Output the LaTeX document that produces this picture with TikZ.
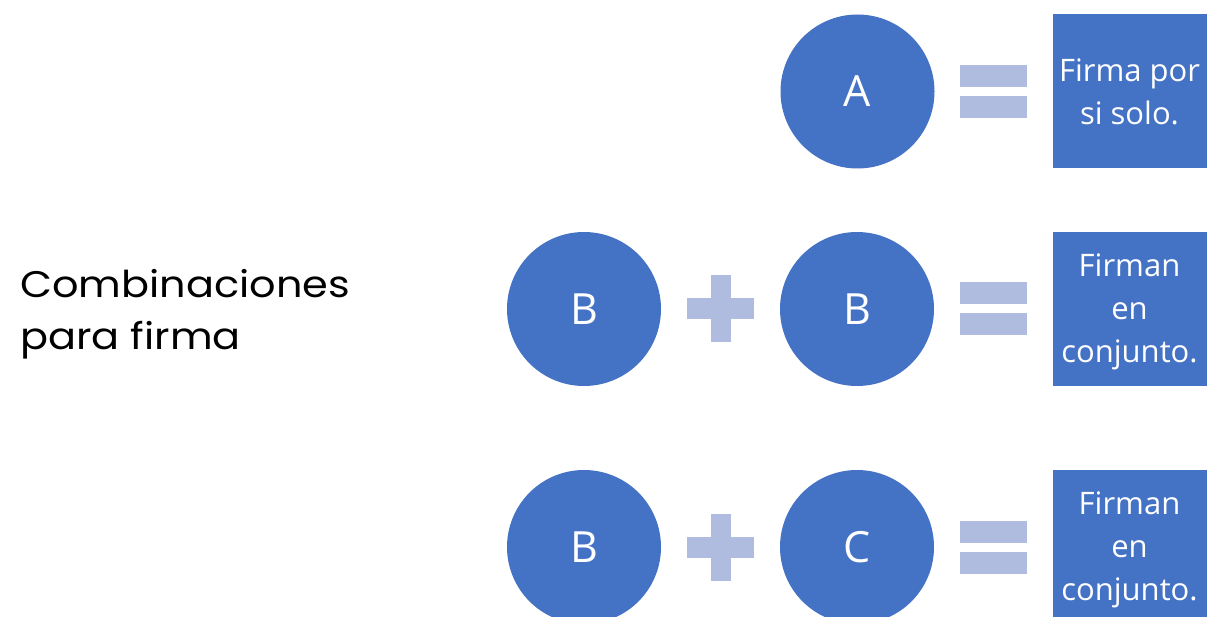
\documentclass[tikz,border=0pt]{standalone}
\usepackage{fontspec}
\setmainfont{Open Sans}
\newfontfamily\titlefont[FakeStretch=1.12]{Poppins}
\definecolor{disc}{HTML}{4472C4}
\definecolor{sign}{HTML}{B0BCDF}
\begin{document}
\begin{tikzpicture}[x=1pt,y=-1pt,
  disk/.style={circle,fill=disc,minimum size=154pt,inner sep=0pt,text=white,
    font=\fontsize{43}{43}\selectfont},
  result/.style={rectangle,fill=disc,minimum width=154pt,minimum height=154pt,
    inner sep=0pt,text=white,align=center,font=\fontsize{31}{43}\selectfont},
  signbar/.style={fill=sign}]
\useasboundingbox (0,0) rectangle (1207,617);

% heading (base anchor sits on the last line)
\node[anchor=base west,align=left,inner sep=0pt,
  font=\titlefont\fontsize{37}{52}\selectfont] (title) at (20,350)
  {Combinaciones\\para firma};

% row 1: A = result
\node[disk] (a1) at (857.5,91.5) {A};
\node[result] (r1) at (1129.5,91.5) {Firma por\\si solo.};

% row 2: B + B = result
\node[disk] (b1) at (584,309) {B};
\node[disk] (b2) at (857,309) {B};
\node[result] (r2) at (1129.5,309) {};
\node[align=center,text=white,font=\fontsize{31}{43}\selectfont] (t2)
  at ([yshift=-3pt]r2.center) {Firman\\en\\conjunto.};

% row 3: B + C = result
\node[disk] (b3) at (584,547) {B};
\node[disk] (c3) at (857,547) {C};
\node[result] (r3) at (1129.5,547) {};
\node[align=center,text=white,font=\fontsize{31}{43}\selectfont] (t3)
  at ([yshift=-3pt]r3.center) {Firman\\en\\conjunto.};

% plus signs
\foreach \y in {309,547}{
  \fill[signbar] (711,\y-33.5) rectangle (731,\y+33.5);
  \fill[signbar] (687,\y-10.5) rectangle (754,\y+10.5);
}
% equals signs
\foreach \y in {91.5,308.5,547}{
  \fill[signbar] (960,\y-26.5) rectangle (1027,\y-4.5);
  \fill[signbar] (960,\y+5) rectangle (1027,\y+27);
}
\end{tikzpicture}
\end{document}
